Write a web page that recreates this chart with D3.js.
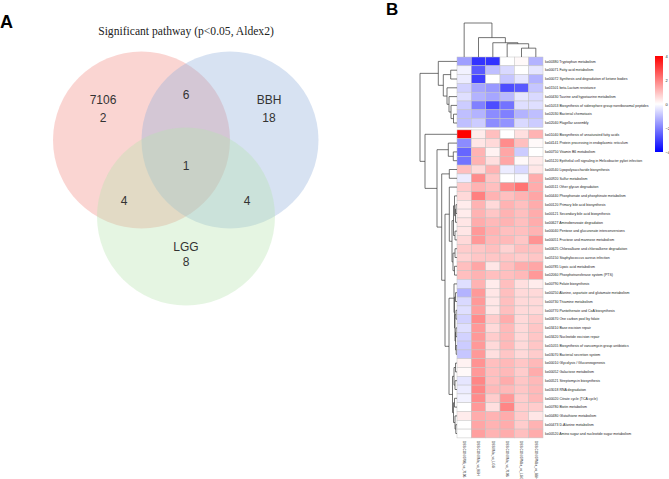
<!DOCTYPE html>
<html>
<head>
<meta charset="utf-8">
<script src="https://cdn.jsdelivr.net/npm/d3@7"></script>
<style>
  body { margin: 0; background: #fff; }
  svg { display: block; }
</style>
</head>
<body>
<div id="chart"></div>
<script>
// ---- data ----
var vennSets = ["7106", "BBH", "LGG"];
var vennRegions = ["7106", "BBH", "LGG", "7106&BBH", "7106&LGG", "BBH&LGG", "7106&BBH&LGG"];
var vennCounts = [2, 18, 8, 6, 4, 4, 1];

var colLabels = ["DSS:CON.0706_vs_7106", "DSS:CON.Mda_vs_BBH", "DSS:Mda_vs_LGG",
                 "DSS:CON.Mda_vs_7106", "DSS:CON.07Mda_vs_LGG", "DSS:CON.07Mda_vs_BBH"];

var rowIds = ["ko00380", "ko00071", "ko00072", "ko01501", "ko00430", "ko01053", "ko02030", "ko02040",
  "ko01040", "ko04141", "ko00750", "ko05120", "ko00540", "ko00920", "ko00511", "ko00440",
  "ko00120", "ko00121", "ko00627", "ko00040", "ko00051", "ko00625", "ko05150", "ko00785",
  "ko02060", "ko00790", "ko00250", "ko00730", "ko00770", "ko00670", "ko03410", "ko03420",
  "ko01055", "ko03070", "ko00010", "ko00052", "ko00521", "ko03018", "ko00020", "ko00780",
  "ko00480", "ko00473", "ko00520"];

var rowNames = ["Tryptophan metabolism", "Fatty acid metabolism", "Synthesis and degradation of ketone bodies",
  "beta-Lactam resistance", "Taurine and hypotaurine metabolism",
  "Biosynthesis of siderophore group nonribosomal peptides", "Bacterial chemotaxis", "Flagellar assembly",
  "Biosynthesis of unsaturated fatty acids", "Protein processing in endoplasmic reticulum",
  "Vitamin B6 metabolism", "Epithelial cell signaling in Helicobacter pylori infection",
  "Lipopolysaccharide biosynthesis", "Sulfur metabolism", "Other glycan degradation",
  "Phosphonate and phosphinate metabolism", "Primary bile acid biosynthesis",
  "Secondary bile acid biosynthesis", "Aminobenzoate degradation",
  "Pentose and glucuronate interconversions", "Fructose and mannose metabolism",
  "Chloroalkane and chloroalkene degradation", "Staphylococcus aureus infection",
  "Lipoic acid metabolism", "Phosphotransferase system (PTS)", "Folate biosynthesis",
  "Alanine, aspartate and glutamate metabolism", "Thiamine metabolism",
  "Pantothenate and CoA biosynthesis", "One carbon pool by folate", "Base excision repair",
  "Nucleotide excision repair", "Biosynthesis of vancomycin group antibiotics",
  "Bacterial secretion system", "Glycolysis / Gluconeogenesis", "Galactose metabolism",
  "Streptomycin biosynthesis", "RNA degradation", "Citrate cycle (TCA cycle)", "Biotin metabolism",
  "Glutathione metabolism", "D-Alanine metabolism", "Amino sugar and nucleotide sugar metabolism"];

var heatValues = [
  [-1.5, -3.2, -3.2, 0.0, 0.1, -1.2],
  [-0.2, -2.6, -1.0, -0.6, 0.0, -0.4],
  [-0.3, -3.0, 0.0, -0.9, -0.4, -1.2],
  [-0.7, -1.4, -1.6, -2.8, -2.6, -0.9],
  [-0.5, -1.2, -1.4, -1.1, -0.4, -0.6],
  [-0.8, -2.0, -2.8, -2.2, -0.5, -0.5],
  [-1.0, -1.2, -1.8, -2.0, -1.2, -1.0],
  [-1.0, -0.8, -1.8, -1.7, -0.6, -0.8],
  [4.0, 0.3, 1.0, 0.0, 0.5, 1.2],
  [-1.8, 0.4, 0.6, 1.8, 1.0, 0.1],
  [-2.4, 1.2, 0.2, 1.4, -0.8, 0.0],
  [-2.2, 1.2, 0.5, 1.4, 0.1, 0.3],
  [1.0, 0.6, 1.2, -0.3, -0.6, 0.4],
  [-0.3, 1.8, 0.9, 0.0, -0.1, 1.3],
  [0.8, 1.2, 1.0, 1.8, 2.2, 1.3],
  [0.6, 2.0, 1.2, 1.0, 1.2, 1.4],
  [0.3, 1.2, 0.6, 1.2, 1.0, 1.3],
  [0.3, 1.2, 0.9, 1.2, 1.0, 1.3],
  [0.4, 1.3, 1.1, 1.2, 1.0, 1.3],
  [0.4, 1.6, 1.2, 1.0, 1.0, 1.2],
  [0.6, 1.6, 1.1, 1.1, 0.9, 1.7],
  [0.8, 0.9, 1.0, 0.7, 1.0, 1.0],
  [0.7, 0.9, 0.9, 0.9, 0.8, 0.9],
  [1.0, 1.4, 0.4, 1.0, 1.3, 1.4],
  [1.0, 1.2, 1.0, 1.0, 1.1, 1.6],
  [-0.5, 1.2, 0.3, 1.0, 0.5, 0.3],
  [-1.2, 1.6, 0.4, 1.0, 0.6, 0.6],
  [-0.6, 1.6, 0.4, 1.0, 0.6, 0.6],
  [-0.5, 1.5, 0.4, 1.0, 0.6, 0.6],
  [-0.7, 1.8, 0.8, 1.3, 0.6, 0.8],
  [-0.5, 1.6, 0.6, 1.1, 0.6, 0.9],
  [-0.7, 1.6, 0.8, 1.1, 0.6, 0.9],
  [-0.8, 1.6, 0.6, 1.1, 0.6, 0.9],
  [-0.9, 1.6, 0.5, 0.9, 0.6, 0.8],
  [0.2, 1.7, 1.0, 1.1, 0.9, 1.1],
  [0.1, 1.6, 1.0, 1.1, 0.8, 1.3],
  [-0.4, 1.9, 1.0, 1.3, 0.9, 1.1],
  [-0.3, 1.9, 1.1, 1.1, 0.9, 1.1],
  [-0.2, 1.8, 0.8, 1.6, 0.8, 1.1],
  [0.0, 1.6, 0.5, 1.9, 0.8, 0.8],
  [0.3, 1.3, 1.2, 1.3, 0.8, 0.4],
  [0.0, 1.4, 1.2, 1.3, 0.8, 1.2],
  [0.0, 1.5, 1.2, 1.3, 1.0, 1.3]
];

// clustering trees: [height, left, right], leaves are indices
var colTree = [10, 0, [5.7, 1, [4.2, 2, [3.9, 3, [2.6, 4, 5]]]]];
var rowTree = [37,
  [18.7, 0, [13.7, [6.3, 1, 2], [10, 3, [8, 4, [6, 5, [3.5, 6, 7]]]]]],
  [32, 8, [20,
    [8.7, 9, [3.7, 10, 11]],
    [15.3, [7.7, 12, 13],
      [12,
        [7.7, 14, [5, [3.5, [2.5, 15, [1.5, [1, 16, 17], 18]], [2, 19, 20]], [4, [2, 21, 22], [2.5, 23, 24]]]],
        [8,
          [3, 25, [2.5, [1.5, 26, 27], [2, [1, 28, 29], [1.5, [1, 30, 31], [0.8, 32, 33]]]]],
          [4.5, [3, [1.5, 34, 35], [2, 36, 37]], [3.5, [2.5, 38, 39], [2, 40, [1.2, 41, 42]]]]
        ]
      ]
    ]
  ]]
];
var colorTicks = [4, 2, 0, -2, -4];

// ---- drawing ----
var W = 669, H = 479;
var svg = d3.select("#chart").append("svg").attr("width", W).attr("height", H);
var sans = "'Liberation Sans', Arial, sans-serif";

// panel letters
svg.append("text").attr("x", 0).attr("y", 28).text("A")
  .style("font-family", sans).style("font-weight", "bold").style("font-size", "18px");
svg.append("text").attr("x", 386).attr("y", 15).text("B")
  .style("font-family", sans).style("font-weight", "bold").style("font-size", "17px");

// ---- Venn ----
var venn = svg.append("g");
venn.append("text").attr("x", 186).attr("y", 35).attr("text-anchor", "middle")
  .text("Significant pathway (p<0.05, Aldex2)")
  .style("font-family", "'Liberation Serif', 'Times New Roman', serif").style("font-size", "11.6px").style("fill", "#222");

var circleGeom = [
  { cx: 141.5, cy: 140, r: 88.5, fill: "#f28b82" },
  { cx: 230, cy: 140, r: 88.5, fill: "#8fb0db" },
  { cx: 186, cy: 216.5, r: 89, fill: "#b8e2b0" }
];
venn.selectAll("circle").data(vennSets).enter().append("circle")
  .attr("cx", function(d, i) { return circleGeom[i].cx; })
  .attr("cy", function(d, i) { return circleGeom[i].cy; })
  .attr("r", function(d, i) { return circleGeom[i].r; })
  .style("fill", function(d, i) { return circleGeom[i].fill; })
  .style("fill-opacity", 0.36);

var regionPos = {
  "7106": [103, 121.7], "BBH": [269, 121.7], "LGG": [186, 266],
  "7106&BBH": [186, 99], "7106&LGG": [124, 205], "BBH&LGG": [247, 205], "7106&BBH&LGG": [186, 170]
};
var setNamePos = { "7106": [103, 104], "BBH": [269, 104], "LGG": [186, 250.7] };
var vtxt = function(sel) {
  sel.attr("text-anchor", "middle").style("font-family", sans).style("font-size", "12px").style("fill", "#333");
};
venn.selectAll("text.setname").data(vennSets).enter().append("text").attr("class", "setname")
  .attr("x", function(d) { return setNamePos[d][0]; })
  .attr("y", function(d) { return setNamePos[d][1]; })
  .text(function(d) { return d; }).call(vtxt);
venn.selectAll("text.count").data(vennRegions).enter().append("text").attr("class", "count")
  .attr("x", function(d) { return regionPos[d][0]; })
  .attr("y", function(d) { return regionPos[d][1]; })
  .text(function(d, i) { return vennCounts[i]; }).call(vtxt);

// ---- Heatmap ----
var hm = svg.append("g");
var nRow = rowIds.length, nCol = colLabels.length;
var gap = 2.5, splitAt = 8;
var x = d3.scaleBand().domain(d3.range(nCol)).range([457, 543]);
var yb = d3.scaleBand().domain(d3.range(nRow)).range([57, 57 + nRow * 8.8]);
var y = function(i) { return yb(i) + (i >= splitAt ? gap : 0); };
var color = d3.scaleLinear().domain([-4, 0, 4]).range(["#0000ff", "#ffffff", "#ff0000"]);

var cells = [];
heatValues.forEach(function(row, r) {
  row.forEach(function(v, c) { cells.push({ r: r, c: c, v: v }); });
});
hm.selectAll("rect.cell").data(cells).enter().append("rect").attr("class", "cell")
  .attr("x", function(d) { return x(d.c); })
  .attr("y", function(d) { return y(d.r); })
  .attr("width", x.bandwidth())
  .attr("height", yb.bandwidth())
  .style("fill", function(d) { return color(d.v); })
  .style("stroke", "#c4c4c4").style("stroke-width", 0.5);

// row labels
hm.selectAll("text.rlab").data(rowIds).enter().append("text").attr("class", "rlab")
  .attr("x", 545)
  .attr("y", function(d, i) { return y(i) + yb.bandwidth() / 2; })
  .attr("dy", "0.35em")
  .text(function(d, i) { return d + " " + rowNames[i]; })
  .style("font-family", sans).style("font-size", "3.5px").style("fill", "#222");

// column labels
hm.selectAll("text.clab").data(colLabels).enter().append("text").attr("class", "clab")
  .attr("transform", function(d, i) {
    return "translate(" + (x(i) + x.bandwidth() / 2) + "," + 441 + ") rotate(90)";
  })
  .attr("dy", "0.35em")
  .text(function(d) { return d; })
  .style("font-family", sans).style("font-size", "3.2px").style("fill", "#222");

// dendrograms
function layoutTree(node, leafPos) {
  if (typeof node === "number") return { h: 0, p: leafPos(node), leaf: true };
  var a = layoutTree(node[1], leafPos), b = layoutTree(node[2], leafPos);
  return { h: node[0], p: (a.p + b.p) / 2, kids: [a, b] };
}
function collect(n, out) {
  if (n.kids) { out.push(n); collect(n.kids[0], out); collect(n.kids[1], out); }
  return out;
}

var rowRoot = layoutTree(rowTree, function(i) { return y(i) + yb.bandwidth() / 2; });
var rh = d3.scaleLinear().domain([0, 37]).range([457, 420]);
hm.selectAll("path.rden").data(collect(rowRoot, [])).enter().append("path").attr("class", "rden")
  .attr("d", function(n) {
    var a = n.kids[0], b = n.kids[1];
    return "M" + rh(a.h) + "," + a.p + "H" + rh(n.h) + "V" + b.p + "H" + rh(b.h);
  })
  .style("fill", "none").style("stroke", "#3a3a3a").style("stroke-width", 0.7);

var colRoot = layoutTree(colTree, function(i) { return x(i) + x.bandwidth() / 2; });
var ch = d3.scaleLinear().domain([0, 10]).range([57, 23]);
hm.selectAll("path.cden").data(collect(colRoot, [])).enter().append("path").attr("class", "cden")
  .attr("d", function(n) {
    var a = n.kids[0], b = n.kids[1];
    return "M" + a.p + "," + ch(a.h) + "V" + ch(n.h) + "H" + b.p + "V" + ch(b.h);
  })
  .style("fill", "none").style("stroke", "#3a3a3a").style("stroke-width", 0.7);

// colour legend
var lg = d3.scaleLinear().domain([-4, 4]).range([152, 56]);
var defs = svg.append("defs");
var grad = defs.append("linearGradient").attr("id", "cbar")
  .attr("x1", "0").attr("y1", "1").attr("x2", "0").attr("y2", "0");
d3.range(-4, 4.01, 1).forEach(function(v) {
  grad.append("stop").attr("offset", ((v + 4) / 8 * 100) + "%").attr("stop-color", color(v));
});
svg.append("rect").attr("x", 655).attr("y", lg(4)).attr("width", 8).attr("height", lg(-4) - lg(4))
  .style("fill", "url(#cbar)");
var legAxis = svg.append("g").attr("transform", "translate(663,0)")
  .call(d3.axisRight(lg).tickValues(colorTicks).tickSize(0).tickPadding(2.5));
legAxis.select(".domain").remove();
legAxis.selectAll("text").style("font-family", sans).style("font-size", "4px").style("fill", "#222");
</script>
</body>
</html>
